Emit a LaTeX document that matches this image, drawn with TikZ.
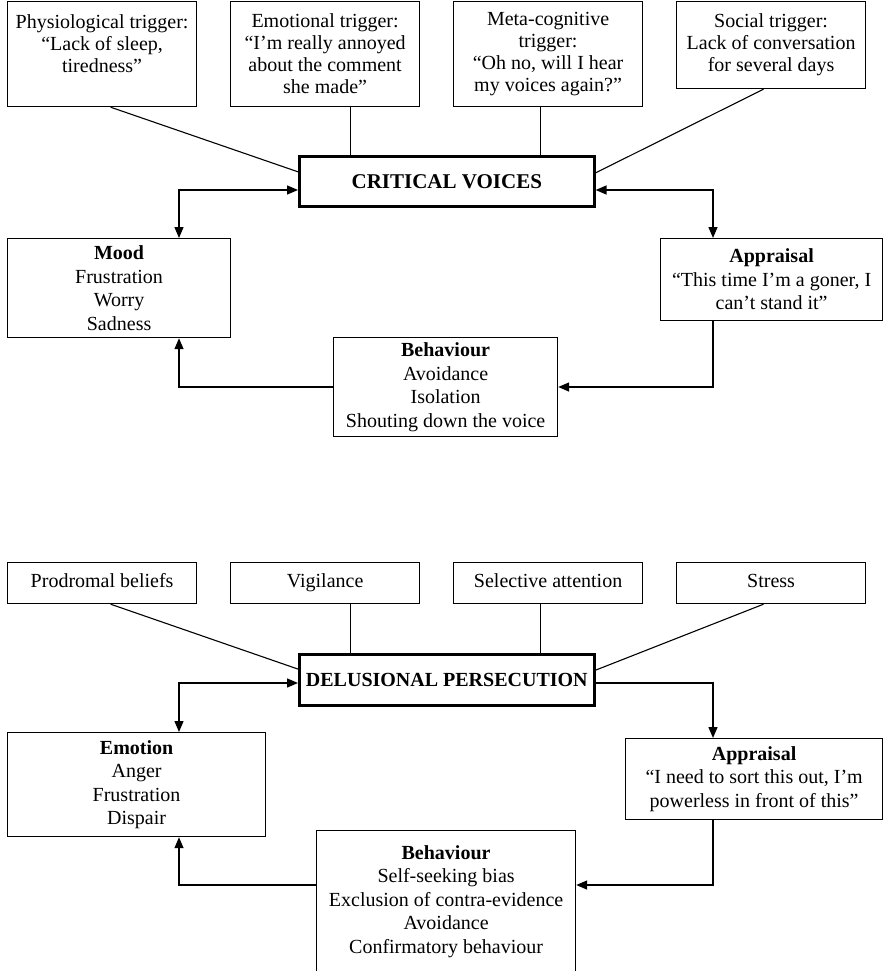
\documentclass[tikz,border=0pt]{standalone}
\usepackage{fontspec}
\setmainfont{Liberation Serif}
\usetikzlibrary{arrows.meta,calc}
\begin{document}
\begin{tikzpicture}[x=1pt,y=-1pt,
  every node/.style={font=\fontsize{20}{23.5}\selectfont, inner sep=0pt, align=center},
  box/.style={draw, line width=1.2pt, anchor=north west},
  trig/.style={box, minimum width=189pt, minimum height=105pt, font=\fontsize{20}{22}\selectfont},
  factor/.style={box, minimum width=189pt, minimum height=41pt, text height=14pt, text depth=4.5pt},
  core/.style={draw, line width=2.6pt, anchor=north west, minimum width=295pt, minimum height=50pt, font=\fontsize{20}{23.5}\selectfont\bfseries},
  link/.style={line width=1.1pt},
  tip/.tip={Triangle[length=11pt,width=9pt]},
  arr/.style={line width=1.4pt, -tip},
  darr/.style={line width=1.4pt, tip-tip},
]
\useasboundingbox (0,0) rectangle (883,971);
\clip (0,0) rectangle (883,971);
\coordinate (colL) at (179,0);
\coordinate (colR) at (713,0);

% ---------- upper diagram ----------
\node[trig] (phys) at (7,1) {Physiological trigger:\\“Lack of sleep,\\tiredness”\\\mbox{}};
\node[trig] (emot) at (230,1) {Emotional trigger:\\“I’m really annoyed\\about the comment\\she made”};
\node[trig] (meta) at (453,1) {Meta-cognitive\\trigger:\\“Oh no, will I hear\\my voices again?”};
\node[trig, minimum height=87pt] (soc) at (676,1) {Social trigger:\\Lack of conversation\\for several days};

\node[core, font=\fontsize{21}{24}\selectfont\bfseries] (cv) at (298,155) {CRITICAL VOICES};

\node[box, minimum width=223pt, minimum height=99pt] (mood) at (7,238) {\textbf{Mood}\\Frustration\\Worry\\Sadness};
\node[box, minimum width=222pt, minimum height=82pt] (app1) at (660,238) {\textbf{Appraisal}\\“This time I’m a goner, I\\can’t stand it”};
\node[box, minimum width=224pt, minimum height=99pt] (beh1) at (333,337) {\textbf{Behaviour}\\Avoidance\\Isolation\\Shouting down the voice};

\coordinate (p1) at ($(phys.south west)!0.545!(phys.south east)$);
\coordinate (e1) at ($(emot.south west)!0.635!(emot.south east)$);
\coordinate (m1) at ($(meta.south west)!0.46!(meta.south east)$);
\coordinate (s1) at ($(soc.south west)!0.46!(soc.south east)$);
\draw[link] (p1) -- ($(cv.north west)!0.32!(cv.south west)$);
\draw[link] (e1) -- (e1 |- cv.north);
\draw[link] (m1) -- (m1 |- cv.north);
\draw[link] (s1) -- ($(cv.north east)!0.34!(cv.south east)$);

\draw[darr] (cv.west |- 0,190) -| (colL |- mood.north);
\draw[darr] (cv.east |- 0,190) -| (colR |- app1.north);
\draw[arr] (beh1.west |- 0,387) -| (colL |- mood.south);
\draw[arr] (colR |- app1.south) |- (beh1.east |- 0,387);

% ---------- lower diagram ----------
\node[factor] (prod) at (7,562) {Prodromal beliefs};
\node[factor] (vig) at (230,562) {Vigilance};
\node[factor] (sel) at (453,562) {Selective attention};
\node[factor] (str) at (676,562) {Stress};

\node[core, minimum height=51pt] (dp) at (298,653) {DELUSIONAL PERSECUTION};

\node[box, minimum width=258pt, minimum height=104pt] (emo) at (7,732) {\textbf{Emotion}\\Anger\\Frustration\\Dispair};
\node[box, minimum width=257pt, minimum height=81pt] (app2) at (625,738) {\textbf{Appraisal}\\“I need to sort this out, I’m\\powerless in front of this”};
\node[box, minimum width=259pt, minimum height=170pt] (beh2) at (316,830) {};
\node[anchor=north] (beh2t) at ($(beh2.north)+(0,15)$) {\textbf{Behaviour}\\Self-seeking bias\\Exclusion of contra-evidence\\Avoidance\\Confirmatory behaviour};

\coordinate (p2) at ($(prod.south west)!0.545!(prod.south east)$);
\coordinate (v2) at ($(vig.south west)!0.635!(vig.south east)$);
\coordinate (a2) at ($(sel.south west)!0.46!(sel.south east)$);
\coordinate (t2) at ($(str.south west)!0.46!(str.south east)$);
\draw[link] (p2) -- ($(dp.north west)!0.3!(dp.south west)$);
\draw[link] (v2) -- (v2 |- dp.north);
\draw[link] (a2) -- (a2 |- dp.north);
\draw[link] (t2) -- ($(dp.north east)!0.32!(dp.south east)$);

\draw[darr] (dp.west |- 0,683) -| (colL |- emo.north);
\draw[arr] (dp.east |- 0,683) -| (colR |- app2.north);
\draw[arr] (beh2.west |- 0,885) -| (colL |- emo.south);
\draw[arr] (colR |- app2.south) |- (beh2.east |- 0,885);
\end{tikzpicture}
\end{document}
